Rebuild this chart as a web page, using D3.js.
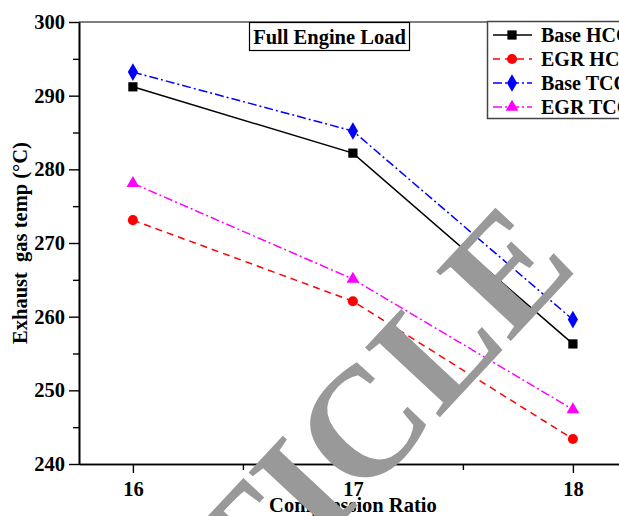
<!DOCTYPE html>
<html>
<head>
<meta charset="utf-8">
<script src="https://cdn.jsdelivr.net/npm/d3@7"></script>
<style>
    body { margin: 0; background: #fff; }
    svg { display: block; font-family: "Liberation Serif", "Times New Roman", serif; }
</style>
</head>
<body>
<svg id="chart" width="619" height="516"></svg>
<script>
// compression ratio on x
const ratios = [16, 17, 18];
// exhaust gas temp (°C)
const baseHCC = [291.2, 282.2, 256.3];
const egrHCC = [273.1, 262.1, 243.4];
const baseTCC = [293.2, 285.2, 259.6];
const egrTCC = [278.1, 265.1, 247.4];
const seriesNames = ["Base HCC", "EGR HCC", "Base TCC", "EGR TCC"];
const yTicks = [240, 250, 260, 270, 280, 290, 300];
const xTicks = [16, 17, 18];

class LineChart {
    constructor (element, configs) {
        this.ele = d3.select(element);
        let defaultConfig = {
            margin: { top: 22, left: 79 },
            font: 20.5
        };
        this.config = Object.assign({}, defaultConfig, configs);
        this.initParams();
        this.render();
    }

    initParams () {
        this.height = 464 - this.config.margin.top;
        // right side runs past the window, like in the figure
        this.x = d3.scaleLinear().domain([15.755, 18.3]).range([0, 2.545 * 220]);
        this.y = d3.scaleLinear().domain([240, 300]).range([this.height, 0]);
        this.styles = [
            {color: "#000000", dash: null, marker: d3.symbolSquare, size: 85},
            {color: "#ff0000", dash: "7,5", marker: d3.symbolCircle, size: 80},
            {color: "#0000ff", dash: "9,3,2,3", marker: d3.symbolDiamond, size: 90},
            {color: "#ff00ff", dash: "9,3,2,3", marker: d3.symbolTriangle, size: 70}
        ];
        this.data = [baseHCC, egrHCC, baseTCC, egrTCC].map((vals, i) => {
            return {name: seriesNames[i], values: vals.map((v, j) => ({x: ratios[j], y: v}))};
        });
    }

    render () {
        let m = this.config.margin;
        this.main = this.ele.append("g")
            .attr("transform", "translate(" + m.left + "," + m.top + ")");
        this.drawAxis();
        this.drawLines();
        this.drawMark();
        this.drawTitle();
        this.drawLegend();
    }

    drawAxis () {
        let f = this.config.font;
        // top frame
        this.main.append("line")
            .attr("x1", 0).attr("x2", this.x.range()[1])
            .attr("y1", 0).attr("y2", 0)
            .attr("stroke", "#555").attr("stroke-width", 1.5);

        let yAxis = this.main.append("g")
            .call(d3.axisLeft(this.y).tickValues(yTicks).tickSize(10).tickPadding(4).tickSizeOuter(0));
        this.main.append("g")
            .call(d3.axisLeft(this.y).tickValues(d3.range(245, 300, 10)).tickSize(6).tickFormat("").tickSizeOuter(0));
        let xAxis = this.main.append("g")
            .attr("transform", "translate(0," + this.height + ")")
            .call(d3.axisBottom(this.x).tickValues(xTicks).tickFormat(d3.format("d")).tickSize(9).tickPadding(8).tickSizeOuter(0));
        this.main.append("g")
            .attr("transform", "translate(0," + this.height + ")")
            .call(d3.axisBottom(this.x).tickValues([16.5, 17.5]).tickSize(6).tickFormat("").tickSizeOuter(0));

        this.main.selectAll(".domain").attr("stroke", "#000").attr("stroke-width", 1.6);
        this.main.selectAll(".tick line").attr("stroke", "#000").attr("stroke-width", 1.4);
        [yAxis, xAxis].forEach((a) => {
            a.selectAll("text")
                .attr("font-family", "Liberation Serif, Times New Roman, serif")
                .attr("font-size", f).attr("font-weight", "bold").attr("fill", "#000");
        });

        this.main.append("text")
            .attr("transform", "translate(" + (-52) + "," + (this.y(270)) + ") rotate(-90)")
            .attr("text-anchor", "middle")
            .attr("font-size", f).attr("font-weight", "bold")
            .style("white-space", "pre")
            .text("Exhaust  gas temp (°C)");

        this.main.append("text")
            .attr("x", this.x(17))
            .attr("y", this.height + 48)
            .attr("text-anchor", "middle")
            .attr("font-size", f).attr("font-weight", "bold")
            .text("Compression Ratio");
    }

    drawLines () {
        let line = d3.line().x((d) => this.x(d.x)).y((d) => this.y(d.y));
        let groups = this.main.append("g")
            .selectAll("g")
            .data(this.data)
            .enter()
            .append("g");
        groups.append("path")
            .attr("d", (d) => line(d.values))
            .attr("fill", "none")
            .attr("stroke", (d, i) => this.styles[i].color)
            .attr("stroke-width", 1.5)
            .attr("stroke-dasharray", (d, i) => this.styles[i].dash);
        groups.each((d, i, nodes) => {
            let s = this.styles[i];
            d3.select(nodes[i]).selectAll("path.pt")
                .data(d.values)
                .enter()
                .append("path")
                .attr("class", "pt")
                .attr("transform", (p) => "translate(" + this.x(p.x) + "," + this.y(p.y) + ")")
                .attr("d", d3.symbol().type(s.marker).size(s.size))
                .attr("fill", s.color);
        });
    }

    // grey stamp across the plot
    drawMark () {
        this.ele.append("text")
            .attr("transform", "translate(580,267) rotate(-47)")
            .attr("text-anchor", "end")
            .attr("font-family", "Liberation Serif, Times New Roman, serif")
            .attr("font-weight", "bold")
            .attr("font-size", 156)
            .attr("fill", "#999999")
            .text("ARTICLE");
    }

    drawTitle () {
        let g = this.ele.append("g");
        g.append("rect")
            .attr("x", 249.5).attr("y", 22.5)
            .attr("width", 160).attr("height", 28)
            .attr("fill", "#fff").attr("stroke", "#000").attr("stroke-width", 1.2);
        g.append("text")
            .attr("x", 329.5).attr("y", 44)
            .attr("text-anchor", "middle")
            .attr("font-size", this.config.font).attr("font-weight", "bold")
            .text("Full Engine Load");
    }

    drawLegend () {
        let lg = this.ele.append("g");
        lg.append("rect")
            .attr("x", 487.5).attr("y", 21.5)
            .attr("width", 160).attr("height", 97)
            .attr("fill", "#fff").attr("stroke", "#444").attr("stroke-width", 1.5);
        let rows = lg.selectAll("g.row")
            .data(this.data)
            .enter()
            .append("g")
            .attr("class", "row")
            .attr("transform", (d, i) => "translate(0," + (35 + i * 24) + ")");
        rows.append("line")
            .attr("x1", 493).attr("x2", 532)
            .attr("stroke", (d, i) => this.styles[i].color)
            .attr("stroke-width", 1.5)
            .attr("stroke-dasharray", (d, i) => this.styles[i].dash);
        rows.append("path")
            .attr("transform", "translate(512,0)")
            .attr("d", (d, i) => d3.symbol().type(this.styles[i].marker).size(this.styles[i].size)())
            .attr("fill", (d, i) => this.styles[i].color);
        rows.append("text")
            .attr("x", 541)
            .attr("dy", "0.35em")
            .attr("font-size", 20).attr("font-weight", "bold")
            .text((d) => d.name);
    }
}

new LineChart("#chart", {});
</script>
</body>
</html>
